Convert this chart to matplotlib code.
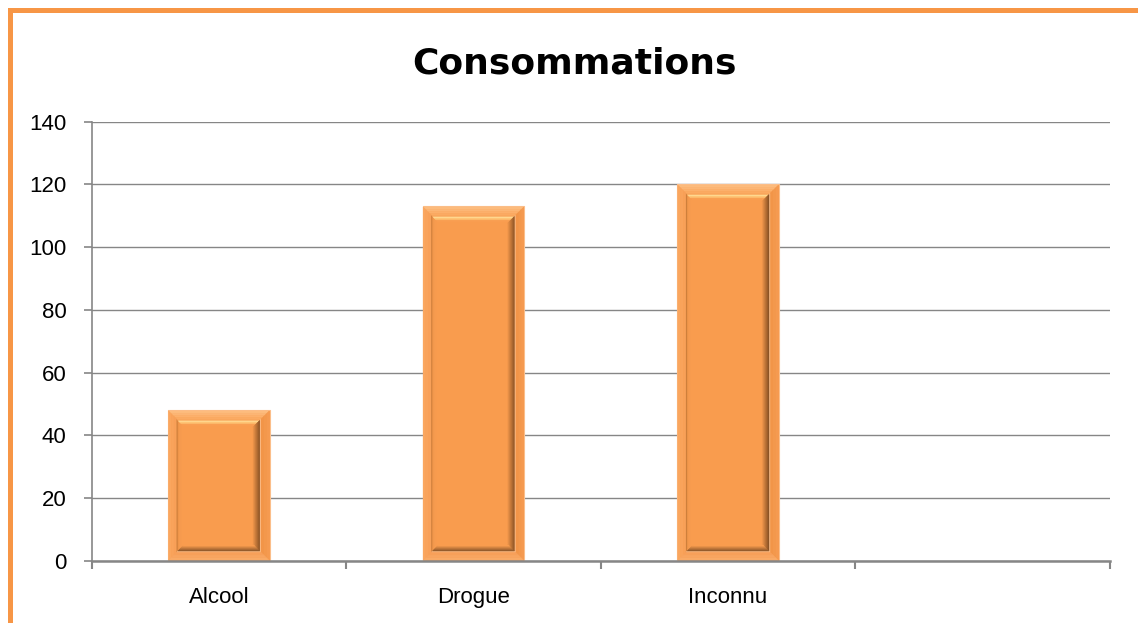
import numpy as np
import matplotlib
matplotlib.use("Agg")
import matplotlib.pyplot as plt
from matplotlib.patches import Polygon, Rectangle
from matplotlib.colors import to_rgb

# Data
categories = ["Alcool", "Drogue", "Inconnu"]
values = [48, 113, 120]
n_slots = 4
y_ticks = [0, 20, 40, 60, 80, 100, 120, 140]
title = "Consommations"

W, H, DPI = 1138, 623, 100
fig = plt.figure(figsize=(W / DPI, H / DPI), dpi=DPI)
fig.patch.set_facecolor("white")

# axes placed in pixel terms
left, right, bottom_px, top_px = 91.5, 1110, 561, 121.7
ax = fig.add_axes([left / W, (H - bottom_px) / H, (right - left) / W, (bottom_px - top_px) / H])

grid_col = "#868686"
face = "#F99C4E"

x = np.arange(len(categories))
bars = ax.bar(x, values, width=0.4, color=face, edgecolor="#FBBE8A", linewidth=0.8, zorder=2)

ax.set_xlim(-0.5, n_slots - 0.5)
ax.set_ylim(0, 140)
ax.set_yticks(y_ticks)
ax.set_yticklabels([str(v) for v in y_ticks])
ax.yaxis.grid(True, color=grid_col, linewidth=1.0)
ax.set_axisbelow(True)

# category boundaries carry the tick marks, centres carry the labels
ax.set_xticks(np.arange(n_slots + 1) - 0.5)
ax.set_xticklabels([""] * (n_slots + 1))
ax.set_xticks(x, minor=True)
ax.set_xticklabels(categories, minor=True)
ax.tick_params(axis="x", which="major", direction="out", length=6, width=1.5, color=grid_col)
ax.tick_params(axis="x", which="minor", length=0, pad=19, labelsize=16)
ax.tick_params(axis="y", direction="out", length=6, width=1.2, color=grid_col, pad=12, labelsize=16)
for lab in ax.get_xticklabels(minor=True) + ax.get_yticklabels():
    lab.set_fontfamily("Liberation Sans")

for s in ["top", "right"]:
    ax.spines[s].set_visible(False)
ax.spines["left"].set_color(grid_col)
ax.spines["left"].set_linewidth(1.2)
ax.spines["bottom"].set_color(grid_col)
ax.spines["bottom"].set_linewidth(1.8)
ax.spines["bottom"].set_zorder(4)

fig.text(575 / W, (H - 63) / H, title, ha="center", va="center",
         fontsize=26, fontweight="bold", family="DejaVu Sans")


def mix(c1, c2, t):
    a, b = np.array(to_rgb(c1)), np.array(to_rgb(c2))
    return tuple(a + (b - a) * t)


def band(ax, box, side, a, b, c_from, c_to, steps=6):
    """Mitred bevel strip on one side of a pixel box, from inset a to inset b."""
    x0, y0, x1, y1 = box
    inv = ax.transData.inverted()
    edges = np.linspace(a, b, steps + 1)
    for i in range(steps):
        p, q = edges[i], edges[i + 1]
        if side == "top":
            pts = [(x0 + p, y1 - p), (x1 - p, y1 - p), (x1 - q, y1 - q), (x0 + q, y1 - q)]
        elif side == "bottom":
            pts = [(x0 + p, y0 + p), (x1 - p, y0 + p), (x1 - q, y0 + q), (x0 + q, y0 + q)]
        elif side == "left":
            pts = [(x0 + p, y0 + p), (x0 + p, y1 - p), (x0 + q, y1 - q), (x0 + q, y0 + q)]
        else:
            pts = [(x1 - p, y0 + p), (x1 - p, y1 - p), (x1 - q, y1 - q), (x1 - q, y0 + q)]
        col = mix(c_from, c_to, i / max(steps - 1, 1))
        ax.add_patch(Polygon(inv.transform(pts), closed=True, facecolor=col,
                             edgecolor=col, linewidth=0.3, zorder=3))


for rect in bars:
    (bx0, by0), (bx1, by1) = ax.transData.transform(
        [(rect.get_x(), rect.get_y()), (rect.get_x() + rect.get_width(), rect.get_height())])
    box = (bx0, by0, bx1, by1)
    # outer bevel
    band(ax, box, "top", 0.6, 9, "#FDBC7E", "#FBAA62", steps=4)
    band(ax, box, "left", 0.6, 9, "#FAA65E", "#F8A058", steps=3)
    band(ax, box, "right", 0.6, 9, "#F59A50", "#F29548", steps=3)
    band(ax, box, "bottom", 0.6, 9, "#F9AA66", "#F7A05A", steps=3)
    # inner bevel
    band(ax, box, "left", 9, 11, "#C97C3A", "#EE9448", steps=2)
    band(ax, box, "left", 11, 15, "#F49A4E", face, steps=3)
    band(ax, box, "top", 9, 17, "#F9A85E", face, steps=8)
    band(ax, box, "top", 10.5, 13, "#FFD88F", "#FFC676", steps=2)
    band(ax, box, "right", 9, 10, "#FBBE8A", "#FBBE8A", steps=1)
    band(ax, box, "right", 10, 18, "#8A5224", face, steps=8)
    band(ax, box, "bottom", 9, 10, "#F8B57C", "#F8B57C", steps=1)
    band(ax, box, "bottom", 10, 16, "#915A2B", face, steps=6)

# orange frame round the chart area
fig.add_artist(Rectangle((10 / W, -0.05), (1140 - 10) / W, (H - 10) / H + 0.05,
                         transform=fig.transFigure, fill=False,
                         edgecolor="#F79646", linewidth=3.6, zorder=10, clip_on=False))

fig.savefig("out.png", dpi=DPI, facecolor="white")
